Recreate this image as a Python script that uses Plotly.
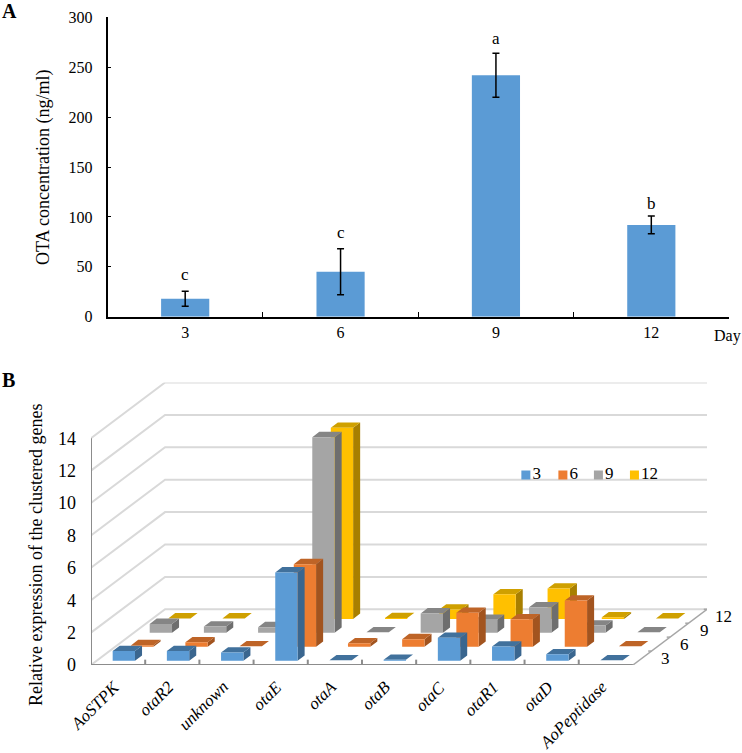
import plotly.graph_objects as go

FONT = "Liberation Serif"
W, H = 742, 753

# ---------- Panel A data ----------
days = ["3", "6", "9", "12"]
ota_mean = [18, 45, 242, 92]
ota_err = [7.5, 23, 22, 9]
ota_letters = ["c", "c", "a", "b"]
letter_shift = [5, 5, 3, 1]

# ---------- Panel B data ----------
genes = ["AoSTPK", "otaR2", "unknown", "otaE", "otaA", "otaB", "otaC", "otaR1", "otaD", "AoPeptidase"]
series_names = ["3", "6", "9", "12"]
expr_3 = [0.6, 0.6, 0.5, 5.45, 0.03, 0.05, 1.42, 0.88, 0.39, 0.02]
expr_6 = [0.1, 0.28, 0.03, 5.1, 0.22, 0.47, 2.1, 1.7, 2.86, 0.03]
expr_9 = [0.55, 0.39, 0.35, 12.08, 0.03, 1.2, 0.8, 1.58, 0.45, 0.03]
expr_12 = [0.03, 0.03, 0.03, 11.8, 0.05, 0.58, 1.52, 1.87, 0.1, 0.03]
expr = [expr_3, expr_6, expr_9, expr_12]
front_colors = ["#5B9BD5", "#ED7D31", "#A5A5A5", "#FFC000"]
top_colors = ["#41719C", "#BE6427", "#858585", "#CFA000"]
side_colors = ["#3A668F", "#A2541F", "#6E6E6E", "#A87F00"]
y_ticks_b = [0, 2, 4, 6, 8, 10, 12, 14]
legend_px = [525.5, 562.5, 598, 634]

# oblique projection: one depth row in category / value units
DX, DY = 0.3416, 0.86
BAR_HALF_W, BAR_HALF_D = 0.206, 0.19
N = len(genes)
ROWS = len(series_names)


def proj(c, d, v):
    return c + DX * d, v + DY * d


fig = go.Figure()

# Panel A
fig.add_trace(go.Bar(
    x=days, y=ota_mean, width=0.31, marker=dict(color="#5B9BD5", line=dict(width=0)),
    error_y=dict(type="data", array=ota_err, visible=True, color="black", thickness=1.5, width=3.5),
    showlegend=False, xaxis="x", yaxis="y", hoverinfo="skip"))

# Panel B walls
wx, wy = [], []
for v in y_ticks_b:
    for c, d in [(0, 0), (0, ROWS), (N, ROWS)]:
        x, y = proj(c, d, v)
        wx.append(x)
        wy.append(y)
    wx.append(None)
    wy.append(None)
fig.add_trace(go.Scatter(x=wx, y=wy, mode="lines", line=dict(color="#D9D9D9", width=2),
                         showlegend=False, xaxis="x2", yaxis="y2", hoverinfo="skip"))


def poly(points, xs, ys):
    for (c, d, v) in points:
        x, y = proj(c, d, v)
        xs.append(x)
        ys.append(y)
    x, y = proj(*points[0])
    xs += [x, None]
    ys += [y, None]


def face_trace(xs, ys, color):
    return go.Scatter(x=xs, y=ys, mode="lines", fill="toself", fillcolor=color,
                      line=dict(width=0, color=color), showlegend=False,
                      xaxis="x2", yaxis="y2", hoverinfo="skip")


# Bars, back row first
for r in range(ROWS - 1, -1, -1):
    fx, fy, tx, ty, sx, sy = [], [], [], [], [], []
    d0, d1 = r + 0.5 - BAR_HALF_D, r + 0.5 + BAR_HALF_D
    for c, v in enumerate(expr[r]):
        c0, c1 = c + 0.5 - BAR_HALF_W, c + 0.5 + BAR_HALF_W
        poly([(c0, d0, 0), (c1, d0, 0), (c1, d0, v), (c0, d0, v)], fx, fy)
        poly([(c0, d0, v), (c1, d0, v), (c1, d1, v), (c0, d1, v)], tx, ty)
        poly([(c1, d0, 0), (c1, d1, 0), (c1, d1, v), (c1, d0, v)], sx, sy)
    fig.add_trace(face_trace(sx, sy, side_colors[r]))
    fig.add_trace(face_trace(tx, ty, top_colors[r]))
    fig.add_trace(face_trace(fx, fy, front_colors[r]))

# Panel B axes lines
ax_x = [0, 0, None, 0, N, None]
ax_y = [14, 0, None, 0, 0, None]
for c in range(1, N):
    ax_x += [c, c, None]
    ax_y += [0, 0.33, None]
fig.add_trace(go.Scatter(x=ax_x, y=ax_y, mode="lines", line=dict(color="#8C8C8C", width=2),
                         showlegend=False, xaxis="x2", yaxis="y2", hoverinfo="skip"))
dx_line, dy_line = [], []
for d in range(ROWS + 1):
    x, y = proj(N, d, 0)
    dx_line.append(x)
    dy_line.append(y)
dtick_x, dtick_y = [], []
for d in range(1, ROWS + 1):
    x, y = proj(N, d, 0)
    dtick_x += [x - 0.06, x, None]
    dtick_y += [y, y, None]
fig.add_trace(go.Scatter(x=dx_line + [None] + dtick_x, y=dy_line + [None] + dtick_y, mode="lines",
                         line=dict(color="#A6A6A6", width=1.5),
                         showlegend=False, xaxis="x2", yaxis="y2", hoverinfo="skip"))

# Legend entries (swatch plus label, drawn in the chart area as in the reference)
PX_CAT, PX_VAL = 54.15, 16.2
for name, col, px in zip(series_names, front_colors, legend_px):
    fig.add_trace(go.Scatter(x=[(px - 91) / PX_CAT], y=[(665 - 475) / PX_VAL], mode="markers+text", name=name,
                             text=[name], textposition="middle right",
                             textfont=dict(family=FONT, size=17, color="black"),
                             marker=dict(symbol="square", size=9, color=col),
                             showlegend=False, xaxis="x2", yaxis="y2", hoverinfo="skip"))


def paper_text(px, py, text, size, angle=0):
    return dict(x=px / W, y=1 - py / H, xref="paper", yref="paper", text=text, showarrow=False, textangle=angle,
                xanchor="center", yanchor="middle", font=dict(family=FONT, size=size, color="black"))


annotations = []
# letters above error bars
for i, (m, e, l, s) in enumerate(zip(ota_mean, ota_err, ota_letters, letter_shift)):
    annotations.append(dict(x=i, y=m + e, xref="x", yref="y", text=l, showarrow=False, yanchor="bottom",
                            yshift=s, font=dict(family=FONT, size=17, color="black")))
annotations.append(paper_text(727, 336, "Day", 16))
annotations.append(paper_text(9, 11, "<b>A</b>", 20))
annotations.append(paper_text(8, 380, "<b>B</b>", 20))
annotations.append(paper_text(36, 555, "Relative expression of the clustered genes", 18, -90))
annotations.append(paper_text(43, 167, "OTA concentration (ng/ml)", 18, -90))
# gene labels
for c, g in enumerate(genes):
    annotations.append(dict(x=c + 0.5, y=0, xref="x2", yref="y2", text="<i>%s</i>" % g, showarrow=False,
                            xanchor="right", yanchor="top", textangle=-45, xshift=7, yshift=-11, borderpad=0,
                            font=dict(family=FONT, size=17, color="black")))
# depth labels
for r, name in enumerate(series_names):
    x, y = proj(N, r + 0.5, 0)
    annotations.append(dict(x=x, y=y, xref="x2", yref="y2", text=name, showarrow=False,
                            xshift=23 + r, font=dict(family=FONT, size=17, color="black")))

TOP_B = 14 + ROWS * DY
fig.update_layout(
    width=W, height=H, autosize=False, margin=dict(l=0, r=0, t=0, b=0),
    paper_bgcolor="white", plot_bgcolor="rgba(0,0,0,0)",
    font=dict(family=FONT, color="black"),
    annotations=annotations,
    showlegend=False,
    xaxis=dict(domain=[107.5 / W, 729 / W], anchor="y", type="category", categoryorder="array", categoryarray=days,
               range=[-0.5, 3.5], tickson="boundaries", ticks="inside", ticklen=5, tickwidth=1, tickcolor="black",
               showline=True, linecolor="black", linewidth=1.5, showgrid=False, zeroline=False, automargin=False,
               tickfont=dict(family=FONT, size=16)),
    yaxis=dict(domain=[1 - 316.7 / H, 1 - 17.3 / H], anchor="x", range=[0, 300], dtick=50, ticks="inside",
               ticklen=4, tickwidth=1, tickcolor="black", showline=True, linecolor="black", linewidth=1.5,
               showgrid=False, zeroline=False, ticklabelstandoff=10, tickfont=dict(family=FONT, size=16),
               automargin=False),
    xaxis2=dict(domain=[91 / W, 707 / W], anchor="y2", range=[0, N + ROWS * DX], visible=False, automargin=False),
    yaxis2=dict(domain=[1 - 665 / H, 1 - 382.5 / H], anchor="x2", range=[0, TOP_B], tickmode="array",
                tickvals=y_ticks_b, ticks="", showgrid=False, showline=False, zeroline=False, automargin=False,
                ticklabelstandoff=14, tickfont=dict(family=FONT, size=18)),
)
fig.write_html("out.html", config=dict(displayModeBar=False),
               post_script="document.body.style.margin='0';document.documentElement.style.overflow='hidden';")
